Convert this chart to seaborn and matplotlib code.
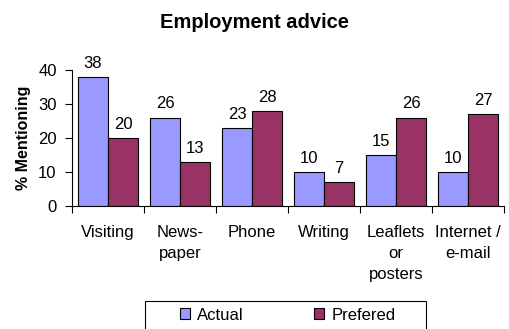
import matplotlib
matplotlib.use("Agg")
import matplotlib.pyplot as plt
from matplotlib.patches import Rectangle
from matplotlib.ticker import FixedLocator
import pandas as pd
import seaborn as sns

categories = ["Visiting", "News-\npaper", "Phone", "Writing", "Leaflets\nor\nposters", "Internet /\ne-mail"]
actual = [38, 26, 23, 10, 15, 10]
prefered = [20, 13, 28, 7, 26, 27]
series_names = ["Actual", "Prefered"]
colors = ["#9999FF", "#993366"]

df = pd.DataFrame({
    "category": categories * 2,
    "value": actual + prefered,
    "series": [series_names[0]] * len(categories) + [series_names[1]] * len(categories),
})

sns.set_style("white")
plt.rcParams["font.family"] = ["Liberation Sans", "DejaVu Sans"]
plt.rcParams.update({"text.color": "black", "axes.labelcolor": "black",
                     "xtick.color": "black", "ytick.color": "black"})

W, H = 509, 329
fig = plt.figure(figsize=(W / 100, H / 100), dpi=100)
ax = fig.add_axes([72 / W, 1 - 206 / H, (504 - 72) / W, (206 - 70) / H])

sns.barplot(data=df, x="category", y="value", hue="series", order=categories,
            hue_order=series_names, palette=colors, edgecolor="black",
            linewidth=0.8, width=0.833, gap=0, saturation=1, ax=ax, legend=False)

for cont in ax.containers:
    ax.bar_label(cont, fmt="%d", padding=4.5, fontsize=12, color="black")

ax.set_ylim(0, 40)
ax.set_xlim(-0.5, len(categories) - 0.5)
ax.set_yticks([0, 10, 20, 30, 40])
ax.tick_params(axis="y", labelsize=12, length=5, width=0.8, direction="out", left=True,
               color="black", labelcolor="black", pad=6)
ax.tick_params(axis="x", which="major", length=0, labelsize=12, labelcolor="black", pad=14)
ax.xaxis.set_minor_locator(FixedLocator([i - 0.5 for i in range(len(categories) + 1)]))
ax.tick_params(axis="x", which="minor", length=5, width=0.8, bottom=True, direction="out", color="black")
for lbl in ax.get_xticklabels():
    lbl.set_multialignment("center")
    lbl.set_linespacing(1.47)

for side in ["top", "right"]:
    ax.spines[side].set_visible(False)
for side in ["left", "bottom"]:
    ax.spines[side].set_color("black")
    ax.spines[side].set_linewidth(0.8)

ax.set_xlabel("")
ax.set_ylabel("% Mentioning", fontsize=11.5, fontweight="bold", labelpad=5, color="black")

fig.text(0.5, 1 - 22 / H, "Employment advice", ha="center", va="center",
         fontsize=14.5, fontweight="bold", color="black")

# legend box along the bottom edge
fig.patches.append(Rectangle((145 / W, -0.05), (426 - 145) / W, 0.05 + (329 - 301) / H,
                             transform=fig.transFigure, facecolor="white",
                             edgecolor="black", linewidth=0.8))
handles = [Rectangle((0, 0), 1, 1, facecolor=c, edgecolor="black", linewidth=0.8) for c in colors]
fig.legend(handles, series_names, loc="center", bbox_to_anchor=(287.5 / W, 1 - 315 / H),
           ncol=2, frameon=False, fontsize=12, handlelength=0.6, handleheight=0.6,
           handletextpad=0.42, columnspacing=4.25, labelcolor="black")

fig.savefig("out.png", dpi=100)
